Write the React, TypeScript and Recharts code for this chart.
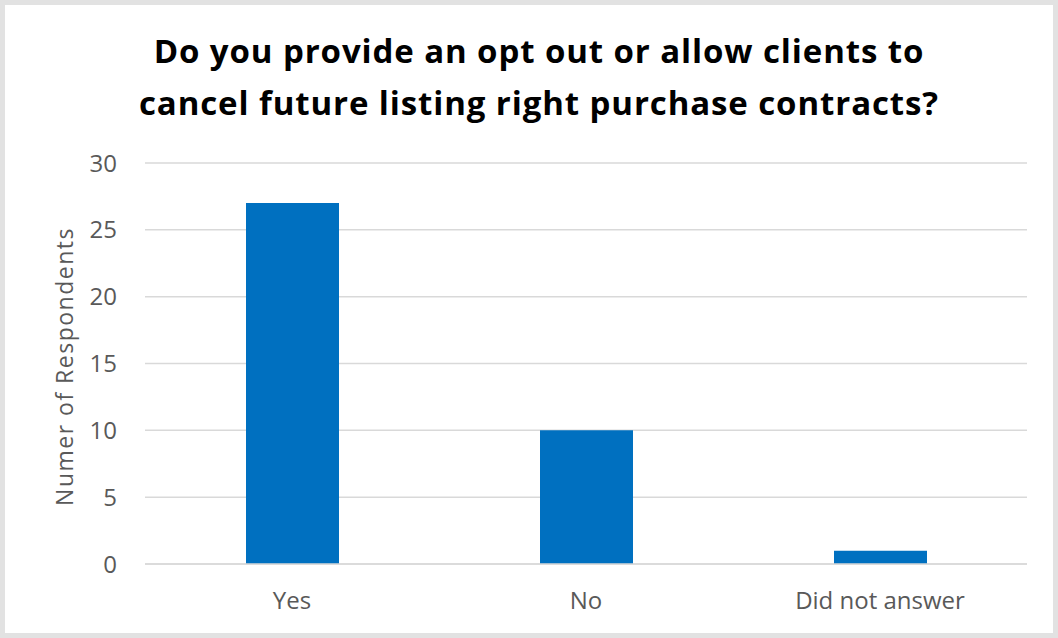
import { BarChart, Bar, XAxis, YAxis, CartesianGrid } from 'recharts';

const categories = ['Yes', 'No', 'Did not answer'];
const respondents = [27, 10, 1];
const yTicks = [0, 5, 10, 15, 20, 25, 30];

const data = categories.map((name, i) => ({ name, value: respondents[i] }));

const FONT = '"Open Sans", "Noto Sans", sans-serif';

export default function App() {
  return (
    <div
      style={{
        position: 'absolute',
        left: 0,
        top: 0,
        width: 1058,
        height: 638,
        background: '#fff',
        fontFamily: FONT,
      }}
    >
      <div
        style={{
          position: 'absolute',
          inset: 0,
          border: '5px solid #e2e2e2',
          boxSizing: 'border-box',
          pointerEvents: 'none',
        }}
      />
      <div
        style={{
          position: 'absolute',
          left: 0,
          width: 1078,
          top: 25,
          textAlign: 'center',
          fontSize: 33,
          fontWeight: 700,
          letterSpacing: 0.9,
          lineHeight: '52px',
          color: '#000',
        }}
      >
        Do you provide an opt out or allow clients to
        <br />
        cancel future listing right purchase contracts?
      </div>
      <BarChart
        width={1058}
        height={638}
        data={data}
        margin={{ top: 163, right: 31, bottom: 30, left: 0 }}
        barSize={93}
      >
        <CartesianGrid vertical={false} stroke="#d9d9d9" strokeWidth={1.5} />
        <XAxis
          dataKey="name"
          tickLine={false}
          axisLine={{ stroke: '#d9d9d9', strokeWidth: 1.5 }}
          tickSize={0}
          tickMargin={28}
          height={44}
          tick={{ fill: '#595959', fontSize: 24, fontFamily: FONT }}
        />
        <YAxis
          width={145}
          domain={[0, 30]}
          ticks={yTicks}
          axisLine={false}
          tickLine={false}
          tickSize={0}
          tickMargin={28}
          tick={{ fill: '#595959', fontSize: 24, fontFamily: FONT }}
          label={{
            value: 'Numer of Respondents',
            angle: -90,
            position: 'center',
            dx: -8,
            dy: 3,
            fill: '#595959',
            fontSize: 23,
            letterSpacing: 1.5,
            fontFamily: FONT,
          }}
        />
        <Bar dataKey="value" fill="#0070C0" isAnimationActive={false} />
      </BarChart>
    </div>
  );
}
